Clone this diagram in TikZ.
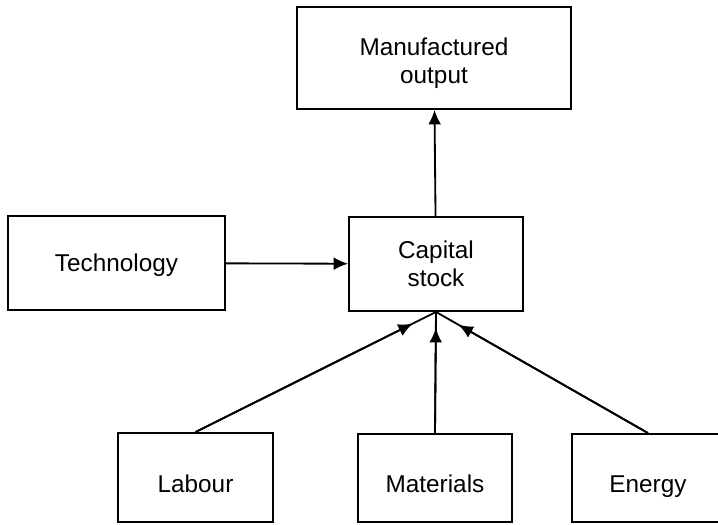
\documentclass[tikz,border=0pt]{standalone}
\usepackage{fontspec}
\setmainfont{Liberation Sans}
\usetikzlibrary{arrows.meta}
\begin{document}
\begin{tikzpicture}[x=0.025cm,y=-0.025cm,
box/.style={draw,line width=1.3pt,align=center,inner sep=0pt,
font=\fontsize{17.3}{20}\selectfont},
inputbox/.style={box,minimum height=2.2cm,text height=20.8pt,text depth=0pt},
flow/.style={line width=1.3pt,-{Latex[length=3.6mm,width=3.2mm]}}]
\useasboundingbox (0,0) rectangle (718,525);
%Output
\node[box,minimum width=6.85cm,minimum height=2.55cm,text height=36pt,text depth=0pt] (output) at (434,58) {Manufactured\\output};
%Capital
\node[box,minimum width=4.35cm,minimum height=2.35cm] (capital) at (436,264) {Capital\\stock};
\node[box,minimum width=5.425cm,minimum height=2.35cm,text height=12.2pt,text depth=0pt] (tech) at (116.5,263) {Technology};
%Inputs
\node[inputbox,minimum width=3.875cm,minimum height=2.225cm] (labour) at (195.5,477.5) {Labour};
\node[inputbox,minimum width=3.85cm] (materials) at (435,478) {Materials};
\node[inputbox,minimum width=3.8cm] (energy) at (648,478) {Energy};
\draw[flow] (capital) -- (output);
\draw[flow] (tech) -- (capital);
\draw[line width=1.3pt] (labour.north) -- (capital.south);
\draw[line width=1.3pt] (materials.north) -- (capital.south);
\draw[line width=1.3pt] (energy.north) -- (capital.south);
\draw[flow,shorten >=0.65cm] (labour.north) -- (capital.south);
\draw[flow,shorten >=0.4cm] (materials.north) -- (capital.south);
\draw[flow,shorten >=0.65cm] (energy.north) -- (capital.south);
\end{tikzpicture}
\end{document}
